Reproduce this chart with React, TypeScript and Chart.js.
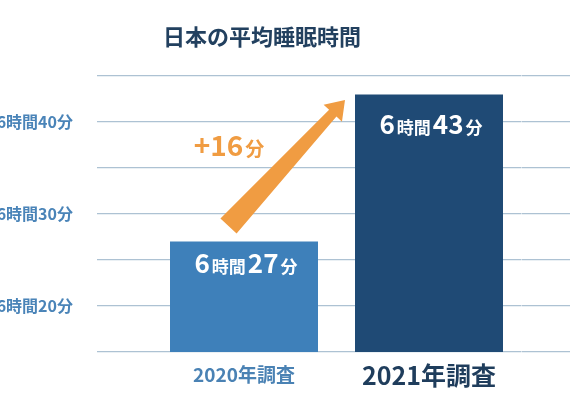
import { useEffect, useRef } from 'react';
import { Chart, registerables } from 'chart.js';

Chart.register(...registerables);

const TITLE = '日本の平均睡眠時間';
const CATEGORIES = ['2020年調査', '2021年調査'];
const HOURS = [6, 6];
const MINUTES = [27, 43];
const Y_MIN = 15;
const Y_MAX = 45;
const Y_STEP = 5;
const Y_LABEL_TICKS = [20, 30, 40];
const Y_LABEL_HOUR = 6;

const FONT = '"Noto Sans CJK JP", "Noto Sans", sans-serif';
const BAR_COLORS = ['#3e80ba', '#1f4a75'];
const GRID_COLOR = '#adc2d3';
const ORANGE = '#f09c42';
const LABEL_OFFSET_Y = [22.5, 30.5];

type Seg = { t: string; size: number };

function drawMixed(ctx: CanvasRenderingContext2D, segs: Seg[], cx: number, cy: number, color: string, gap: number) {
  ctx.save();
  ctx.fillStyle = color;
  ctx.textBaseline = 'alphabetic';
  ctx.textAlign = 'left';
  const widths = segs.map((s) => {
    ctx.font = `bold ${s.size}px ${FONT}`;
    return ctx.measureText(s.t).width;
  });
  const total = widths.reduce((a, b) => a + b, 0) + gap * (segs.length - 1);
  const big = Math.max(...segs.map((s) => s.size));
  const baseline = cy + big * 0.36;
  let x = cx - total / 2;
  segs.forEach((s, i) => {
    ctx.font = `bold ${s.size}px ${FONT}`;
    ctx.fillText(s.t, x, baseline);
    x += widths[i] + gap;
  });
  ctx.restore();
}

const overlayPlugin = {
  id: 'overlay',
  afterDatasetsDraw(chart: any) {
    const ctx: CanvasRenderingContext2D = chart.ctx;
    const bars = chart.getDatasetMeta(0).data;
    if (!bars || bars.length < 2) return;
    bars.forEach((bar: any, i: number) => {
      const segs: Seg[] = [
        { t: String(HOURS[i]), size: 26 },
        { t: '時間', size: 17 },
        { t: String(MINUTES[i]), size: 26 },
        { t: '分', size: 17 },
      ];
      drawMixed(ctx, segs, bar.x + 2, bar.y + LABEL_OFFSET_Y[i], '#ffffff', 2);
    });
    const b0 = bars[0];
    const b1 = bars[1];
    const T = { x: b0.x - 15.5, y: b0.y - 15.6 };
    const P = { x: b1.x - b1.width / 2 - 10, y: b1.y + 5.6 };
    const dx = P.x - T.x;
    const dy = P.y - T.y;
    const len = Math.hypot(dx, dy);
    const u = { x: dx / len, y: dy / len };
    const n = { x: -u.y, y: u.x };
    const hl = 18;
    const hw = 12.5;
    const tw = 11;
    const sw = 5;
    const B = { x: P.x - u.x * hl, y: P.y - u.y * hl };
    const pts = [
      [T.x + n.x * tw, T.y + n.y * tw],
      [B.x + n.x * sw, B.y + n.y * sw],
      [B.x + n.x * hw, B.y + n.y * hw],
      [P.x, P.y],
      [B.x - n.x * hw, B.y - n.y * hw],
      [B.x - n.x * sw, B.y - n.y * sw],
      [T.x - n.x * tw, T.y - n.y * tw],
    ];
    ctx.save();
    ctx.fillStyle = ORANGE;
    ctx.beginPath();
    pts.forEach((p, i) => (i === 0 ? ctx.moveTo(p[0], p[1]) : ctx.lineTo(p[0], p[1])));
    ctx.closePath();
    ctx.fill();
    ctx.restore();
    const diff = MINUTES[1] - MINUTES[0];
    drawMixed(
      ctx,
      [
        { t: `+${diff}`, size: 28 },
        { t: '分', size: 19 },
      ],
      b0.x - 15,
      b1.y + 52,
      ORANGE,
      2
    );
  },
};

export default function App() {
  const ref = useRef<HTMLCanvasElement | null>(null);
  useEffect(() => {
    if (!ref.current) return;
    const chart = new Chart(ref.current, {
      type: 'bar',
      data: {
        labels: CATEGORIES,
        datasets: [
          {
            data: MINUTES,
            backgroundColor: BAR_COLORS,
            borderWidth: 0,
            categoryPercentage: 1,
            barPercentage: 0.8,
          },
        ],
      },
      options: {
        responsive: false,
        animation: false,
        layout: { padding: { left: 0, right: 46, top: 0, bottom: 0 } },
        plugins: {
          legend: { display: false },
          tooltip: { enabled: false },
          title: {
            display: true,
            text: TITLE,
            color: '#22405f',
            font: { family: FONT, size: 22, weight: 'bold', lineHeight: 1.2 },
            padding: { top: 23.8, bottom: 25.8 },
          },
        },
        scales: {
          x: {
            grid: { display: false, drawTicks: false },
            border: { display: false },
            ticks: {
              padding: 11,
              color: (c: any) => (c.index === 0 ? '#4a82b4' : '#1f3d5c'),
              font: (c: any) =>
                c.index === 0
                  ? { family: FONT, size: 19, weight: 'bold', lineHeight: '24px' }
                  : { family: FONT, size: 25, weight: 'bold', lineHeight: '24px' },
            },
            afterFit: (s: any) => {
              s.height = 42;
            },
          },
          y: {
            position: 'left',
            min: Y_MIN,
            max: Y_MAX,
            border: { display: false },
            grid: { color: GRID_COLOR, lineWidth: 1.2, drawTicks: true, tickLength: 54.5 },
            ticks: {
              stepSize: Y_STEP,
              padding: 24,
              color: '#4a84b8',
              font: { family: FONT, size: 16, weight: 'bold' },
              callback: (v: any) => (Y_LABEL_TICKS.includes(Number(v)) ? `${Y_LABEL_HOUR}時間${v}分` : ''),
            },
            afterFit: (s: any) => {
              s.width = 151.5;
            },
          },
          y2: {
            type: 'linear',
            position: 'right',
            min: Y_MIN,
            max: Y_MAX,
            border: { display: false },
            grid: { color: GRID_COLOR, lineWidth: 1.2, drawOnChartArea: false, drawTicks: true, tickLength: 48.5 },
            ticks: { stepSize: Y_STEP, display: false },
            afterFit: (s: any) => {
              s.width = 2.5;
            },
          },
        },
      } as any,
      plugins: [overlayPlugin],
    });
    return () => chart.destroy();
  }, []);
  return (
    <div style={{ position: 'absolute', left: 0, top: 0, width: 570, height: 394, background: '#ffffff' }}>
      <canvas ref={ref} width={570} height={394} style={{ width: 570, height: 394, display: 'block' }} />
    </div>
  );
}
